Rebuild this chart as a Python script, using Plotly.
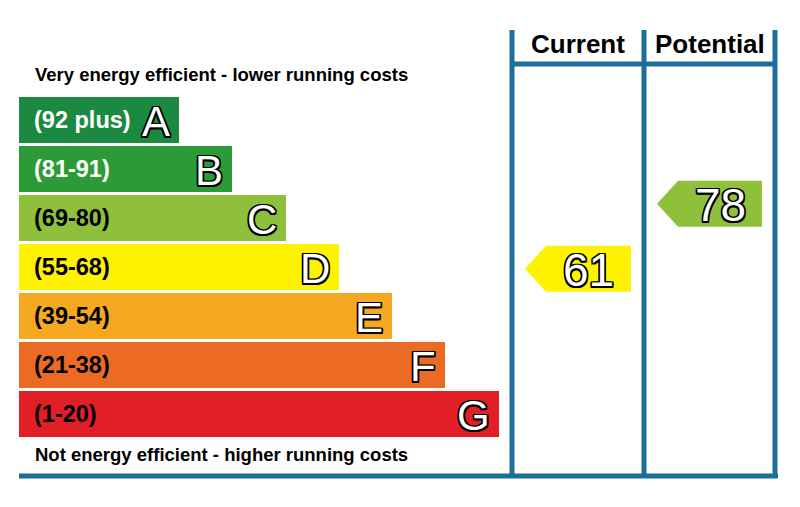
import plotly.graph_objects as go

# ---- data ----
bands = ["A", "B", "C", "D", "E", "F", "G"]
band_ranges = ["(92 plus)", "(81-91)", "(69-80)", "(55-68)", "(39-54)", "(21-38)", "(1-20)"]
band_low = [92, 81, 69, 55, 39, 21, 1]
band_high = [100, 91, 80, 68, 54, 38, 20]
band_colors = ["#1b8a40", "#2c9b37", "#8fc03c", "#fff200", "#f6a821", "#ec6b24", "#e21e26"]
label_colors = ["white", "white", "black", "black", "black", "black", "black"]
columns = ["Current", "Potential"]
scores = [61, 78]
top_text = "Very energy efficient - lower running costs"
bottom_text = "Not energy efficient - higher running costs"

# ---- geometry ----
OFF = 8                      # page body margin
W, H = 800 - OFF, 507 - OFF  # figure size
X0PX, XUNIT = 19.0 - OFF, 53.3
Y0PX, YUNIT = 120.0 - OFF, 49.0
xr = [-X0PX / XUNIT, (W - X0PX) / XUNIT]
yr = [(H - Y0PX) / YUNIT, -Y0PX / YUNIT]

def px2x(p):  # window px -> x units
    return (p - OFF - X0PX) / XUNIT

def px_x(p):  # window px -> paper x
    return (p - OFF) / W

def px_y(p):  # window px -> paper y
    return 1 - (p - OFF) / H

blue = "#1b6f98"
outline = "-1.5px -1.5px 0 #000, 1.5px -1.5px 0 #000, -1.5px 1.5px 0 #000, 1.5px 1.5px 0 #000, 0 1.5px 0 #000, 0 -1.5px 0 #000, 1.5px 0 0 #000, -1.5px 0 0 #000"

idx = list(range(len(bands)))
lengths = [3 + i for i in idx]

fig = go.Figure()
fig.add_trace(go.Bar(
    orientation="h", y=idx, x=lengths, base=0, width=0.94,
    marker=dict(color=band_colors, line=dict(width=0)),
    hoverinfo="skip", showlegend=False,
))

annotations = []
for i in idx:
    annotations.append(dict(
        x=0, y=i, xref="x", yref="y", text=band_ranges[i], showarrow=False,
        xanchor="left", yanchor="middle", xshift=13,
        font=dict(family="Liberation Sans, Arial", size=23.5, color=label_colors[i], weight="bold"),
    ))
    annotations.append(dict(
        x=lengths[i], y=i, xref="x", yref="y", text=bands[i], showarrow=False,
        xanchor="right", yanchor="middle", xshift=-7, yshift=-1,
        font=dict(family="Liberation Sans, Arial", size=42, color="white", shadow=outline),
    ))

# columns
col_edges_px = [512, 644, 775]
col_edges = [px2x(p) for p in col_edges_px]
margin_u = 13 / XUNIT
notch_u = 21 / XUNIT
half_h = 0.47

def score_y(s):
    for i in idx:
        if band_low[i] <= s <= band_high[i]:
            mid = (band_low[i] + band_high[i]) / 2.0
            return i + (mid - s) / (band_high[i] - band_low[i] + 1)
    return 0

for c, s in enumerate(scores):
    left, right = col_edges[c], col_edges[c + 1]
    yc = score_y(s)
    bi = [i for i in idx if band_low[i] <= s <= band_high[i]][0]
    tip = left + margin_u
    body = tip + notch_u
    end = right - margin_u
    fig.add_trace(go.Scatter(
        x=[tip, body, end, end, body, tip],
        y=[yc, yc - half_h, yc - half_h, yc + half_h, yc + half_h, yc],
        mode="lines", fill="toself", fillcolor=band_colors[bi],
        line=dict(width=0, color=band_colors[bi]), hoverinfo="skip", showlegend=False,
    ))
    annotations.append(dict(
        x=(body + end) / 2, y=yc, xref="x", yref="y", text=str(s), showarrow=False,
        xanchor="center", yanchor="middle", yshift=-1,
        font=dict(family="Liberation Sans, Arial", size=46, color="white", shadow=outline),
    ))
    annotations.append(dict(
        x=(left + right) / 2, y=px_y(44), xref="x", yref="paper", text=columns[c],
        showarrow=False, xanchor="center", yanchor="middle",
        font=dict(family="Liberation Sans, Arial", size=26, color="black", weight="bold"),
    ))

annotations.append(dict(
    x=0, y=px_y(74), xref="x", yref="paper", text=top_text, showarrow=False,
    xanchor="left", yanchor="middle", xshift=14,
    font=dict(family="Liberation Sans, Arial", size=18.5, color="black", weight="bold"),
))
annotations.append(dict(
    x=0, y=px_y(454), xref="x", yref="paper", text=bottom_text, showarrow=False,
    xanchor="left", yanchor="middle", xshift=14,
    font=dict(family="Liberation Sans, Arial", size=18.5, color="black", weight="bold"),
))

shapes = []
for p in col_edges_px:
    shapes.append(dict(type="line", xref="paper", yref="paper",
                       x0=px_x(p), x1=px_x(p), y0=px_y(30), y1=px_y(478),
                       line=dict(color=blue, width=5)))
shapes.append(dict(type="line", xref="paper", yref="paper",
                   x0=px_x(510), x1=px_x(777), y0=px_y(64), y1=px_y(64),
                   line=dict(color=blue, width=5)))
shapes.append(dict(type="line", xref="paper", yref="paper",
                   x0=px_x(19), x1=px_x(778), y0=px_y(476), y1=px_y(476),
                   line=dict(color=blue, width=5)))

fig.update_layout(
    width=W, height=H, margin=dict(l=0, r=0, t=0, b=0),
    paper_bgcolor="white", plot_bgcolor="white",
    xaxis=dict(range=xr, visible=False, fixedrange=True),
    yaxis=dict(range=yr, visible=False, fixedrange=True),
    annotations=annotations, shapes=shapes, bargap=0,
)
fig.write_html("out.html")
